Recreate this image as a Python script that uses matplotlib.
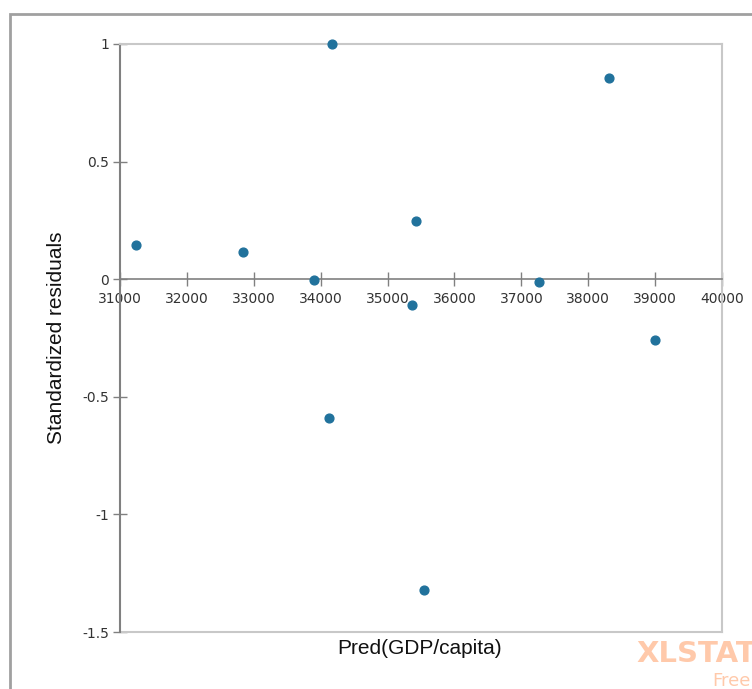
import matplotlib.pyplot as plt
from matplotlib.patches import Rectangle

# predicted GDP per capita vs standardized residuals
pred = [31240, 32840, 33900, 34170, 34125, 35425, 35365, 35545, 37265, 38310, 38995]
resid = [0.145, 0.115, -0.005, 1.0, -0.59, 0.247, -0.11, -1.322, -0.013, 0.855, -0.26]
xticks = list(range(31000, 40001, 1000))
yticks = [-1.5, -1, -0.5, 0, 0.5, 1]
ytick_labels = ['-1.5', '-1', '-0.5', '0', '0.5', '1']

W, H = 752, 689
fig = plt.figure(figsize=(W / 100, H / 100), dpi=100)
ax = fig.add_axes([120 / W, 1 - 632 / H, 602 / W, 588 / H])

ax.scatter(pred, resid, s=40, color='#21729c', zorder=5, clip_on=False)

ax.set_xlim(31000, 40000)
ax.set_ylim(-1.5, 1)

ax.spines['bottom'].set_position(('data', 0))
ax.spines['bottom'].set_color('#808080')
ax.spines['bottom'].set_linewidth(1.2)
ax.spines['left'].set_color('#808080')
ax.spines['left'].set_linewidth(1.5)
for s in ['top', 'right']:
    ax.spines[s].set_color('#c8c8c8')
    ax.spines[s].set_linewidth(1.5)
ax.axhline(-1.5, color='#c8c8c8', lw=1.5, clip_on=False)

ax.set_xticks(xticks)
ax.set_xticklabels([str(v) for v in xticks])
ax.set_yticks(yticks)
ax.set_yticklabels(ytick_labels)
ax.tick_params(axis='x', direction='inout', length=10, width=1, color='#808080',
               labelsize=10, labelcolor='#333333', pad=4)
ax.tick_params(axis='y', direction='inout', length=10, width=1, color='#808080',
               labelsize=10, labelcolor='#333333', pad=3)

fig.text(420 / W, 1 - 648 / H, 'Pred(GDP/capita)', ha='center', va='center',
         fontsize=15, family='Liberation Sans', color='#111111')
fig.text(57 / W, 1 - 338 / H, 'Standardized residuals', ha='center', va='center',
         rotation=90, fontsize=15, family='Liberation Sans', color='#111111')

# outer chart frame running off the image edge
fig.patches.append(Rectangle((10 / W, -0.1), 1.2, 1.1 - 14 / H, transform=fig.transFigure,
                             fill=False, edgecolor='#a0a0a0', lw=2, clip_on=False))

# watermark
fig.text(636 / W, 1 - 654 / H, 'XLSTAT', ha='left', va='center', fontsize=21,
         fontweight='bold', family='DejaVu Sans', color='#ffc9aa')
fig.text(712 / W, 1 - 681 / H, 'Free', ha='left', va='center', fontsize=13,
         family='DejaVu Sans', color='#ffc9aa')

fig.savefig('out.png', dpi=100)
